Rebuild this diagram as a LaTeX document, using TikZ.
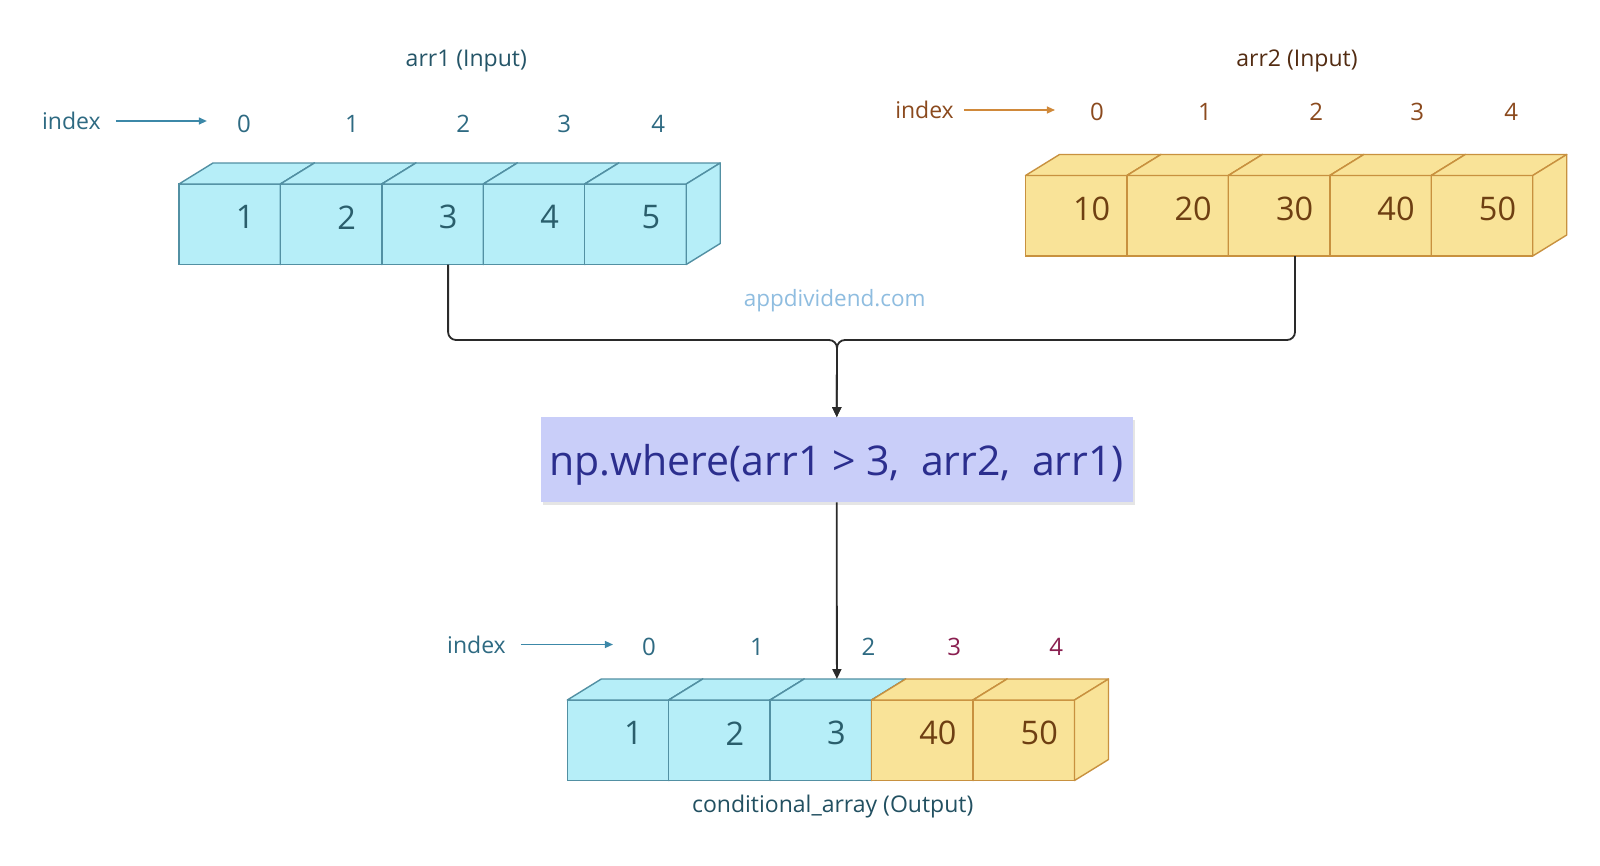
\documentclass[tikz,border=0pt]{standalone}
\usepackage{fontspec}
\setmainfont{Open Sans}
\usetikzlibrary{arrows.meta,shadows}
\definecolor{cyanF}{HTML}{B6EEF8}
\definecolor{cyanD}{HTML}{5290A3}
\definecolor{cyanT}{HTML}{2A5E6C}
\definecolor{yelF}{HTML}{F9E398}
\definecolor{yelD}{HTML}{C8913F}
\definecolor{yelT}{HTML}{6E3F12}
\definecolor{idxA}{HTML}{2E6A82}
\definecolor{idxAarr}{HTML}{3C88A8}
\definecolor{idxB}{HTML}{8B4A1E}
\definecolor{idxBarr}{HTML}{D0893A}
\definecolor{idxC}{HTML}{8A1F50}
\definecolor{eqF}{HTML}{C9CEF9}
\definecolor{eqT}{HTML}{2B2E8E}
\definecolor{wmark}{HTML}{8FBDE0}
\definecolor{connC}{HTML}{2A2A2A}
\newcommand\cellfnt{\fontsize{32.5}{38}\selectfont}
\newcommand\smallfnt{\fontsize{23}{27}\selectfont}
\newcommand\numfnt{\fontsize{24}{28}\selectfont}
\newcommand\cellcube[7]{%
  \node[cellfront, fill=#4, draw=#5] (#1) at (#2,#3) {};
  \filldraw[fill=#4, draw=#5, facestyle] (#1.north west) -- ++(34,-21) -- ++(101.44,0) -- (#1.north east) -- cycle;
  \filldraw[fill=#4, draw=#5, facestyle] (#1.north east) -- ++(34,-21) -- ++(0,80.5) -- (#1.south east) -- cycle;
  \node[text=#6, font=\cellfnt, inner sep=0] (#1t) at ([shift={(15.5,-7)}]#1.center) {#7};
}
\tikzset{
  cellfront/.style={rectangle, anchor=north west, minimum width=101.44pt, minimum height=80.5pt, inner sep=0, outer sep=0, line width=1.4pt},
  facestyle/.style={line width=1.4pt, line join=round},
  lbl/.style={font=\smallfnt, inner sep=0},
  num/.style={font=\numfnt, inner sep=0},
  conn/.style={draw=connC, line width=1.8pt, rounded corners=8pt},
  idxarrow/.style={line width=1.3pt, -{Triangle[length=8pt,width=7pt]}},
}
\begin{document}
\begin{tikzpicture}[x=1pt,y=-1pt]
\useasboundingbox[fill=white] (0,0) rectangle (1600,865);

% ---------- arr1 ----------
\node[lbl, text=idxA!80!black] (t1) at (466.3,61) {arr1 (Input)};
\node[lbl, text=idxA] (ia) at (71.4,121) {index};
\foreach \i/\x in {0/243.9,1/352,2/463.3,3/564.3,4/658.2}
  \node[num, text=idxA] (ia\i) at (\x,123.5) {\i};
\draw[idxarrow, draw=idxAarr] ([xshift=15]ia.east) -- ([xshift=-30]ia0.west |- ia.east);
\foreach \i/\v in {0/1,1/2,2/3,3/4,4/5}{
  \pgfmathsetmacro\xx{179+\i*101.44}
  \cellcube{a\i}{\xx}{184}{cyanF}{cyanD}{cyanT}{\v}
}

% ---------- arr2 ----------
\node[lbl, text=idxB!60!black] (t2) at (1297,61) {arr2 (Input)};
\node[lbl, text=idxB] (ib) at (924.5,110) {index};
\foreach \i/\x in {0/1097,1/1205,2/1316.3,3/1417.3,4/1511.2}
  \node[num, text=idxB] (ib\i) at (\x,112.2) {\i};
\draw[idxarrow, draw=idxBarr] ([xshift=10]ib.east) -- ([xshift=-35]ib0.west |- ib.east);
\foreach \i/\v in {0/10,1/20,2/30,3/40,4/50}{
  \pgfmathsetmacro\xx{1025.5+\i*101.44}
  \cellcube{b\i}{\xx}{175.5}{yelF}{yelD}{yelT}{\v}
}

% ---------- watermark ----------
\node[font=\fontsize{22.5}{26}\selectfont, text=wmark, inner sep=0] (wm) at (834.7,301) {appdividend.com};

% ---------- np.where ----------
\node[fill=eqF, minimum width=592pt, minimum height=84.7pt, inner sep=0,
      drop shadow={opacity=0.2, shadow xshift=2pt, shadow yshift=-2.5pt},
      text=eqT, font=\fontsize{41}{50}\selectfont] (eq) at (836.75,459.7)
      {\raisebox{-5pt}[\height][\depth]{np.where(arr1 > 3,\ \ arr2,\ \ arr1)}};

\coordinate (j) at (837,340);
\draw[conn, -{Triangle[length=10pt,width=9pt]}] ([xshift=15.5]a2.south) |- (j) -- (eq.north);
\draw[conn, -{Triangle[length=10pt,width=9pt]}] ([xshift=15.9]b2.south) |- (j) -- (eq.north);

% ---------- output ----------
\node[lbl, text=idxA] (ic) at (476.5,644.5) {index};
\foreach \i/\x/\c in {0/649/idxA,1/757.1/idxA,2/868.4/idxA,3/954.1/idxC,4/1056.1/idxC}
  \node[num, text=\c] (ic\i) at (\x,647) {\i};
\draw[idxarrow, draw=idxAarr] ([xshift=15]ic.east) -- ([xshift=-29]ic0.west |- ic.east);
\cellcube{c0}{567.3}{700}{cyanF}{cyanD}{cyanT}{1}
\cellcube{c1}{668.74}{700}{cyanF}{cyanD}{cyanT}{2}
\cellcube{c2}{770.18}{700}{cyanF}{cyanD}{cyanT}{3}
\cellcube{c3}{871.62}{700}{yelF}{yelD}{yelT}{40}
\cellcube{c4}{973.06}{700}{yelF}{yelD}{yelT}{50}
\node[lbl, text=idxA!75!black] (t3) at (832.7,807) {conditional\_array (Output)};

\draw[conn, -{Triangle[length=10pt,width=9pt]}] (eq.south) -- ([shift={(16,-21)}]c2.north);
\end{tikzpicture}
\end{document}
